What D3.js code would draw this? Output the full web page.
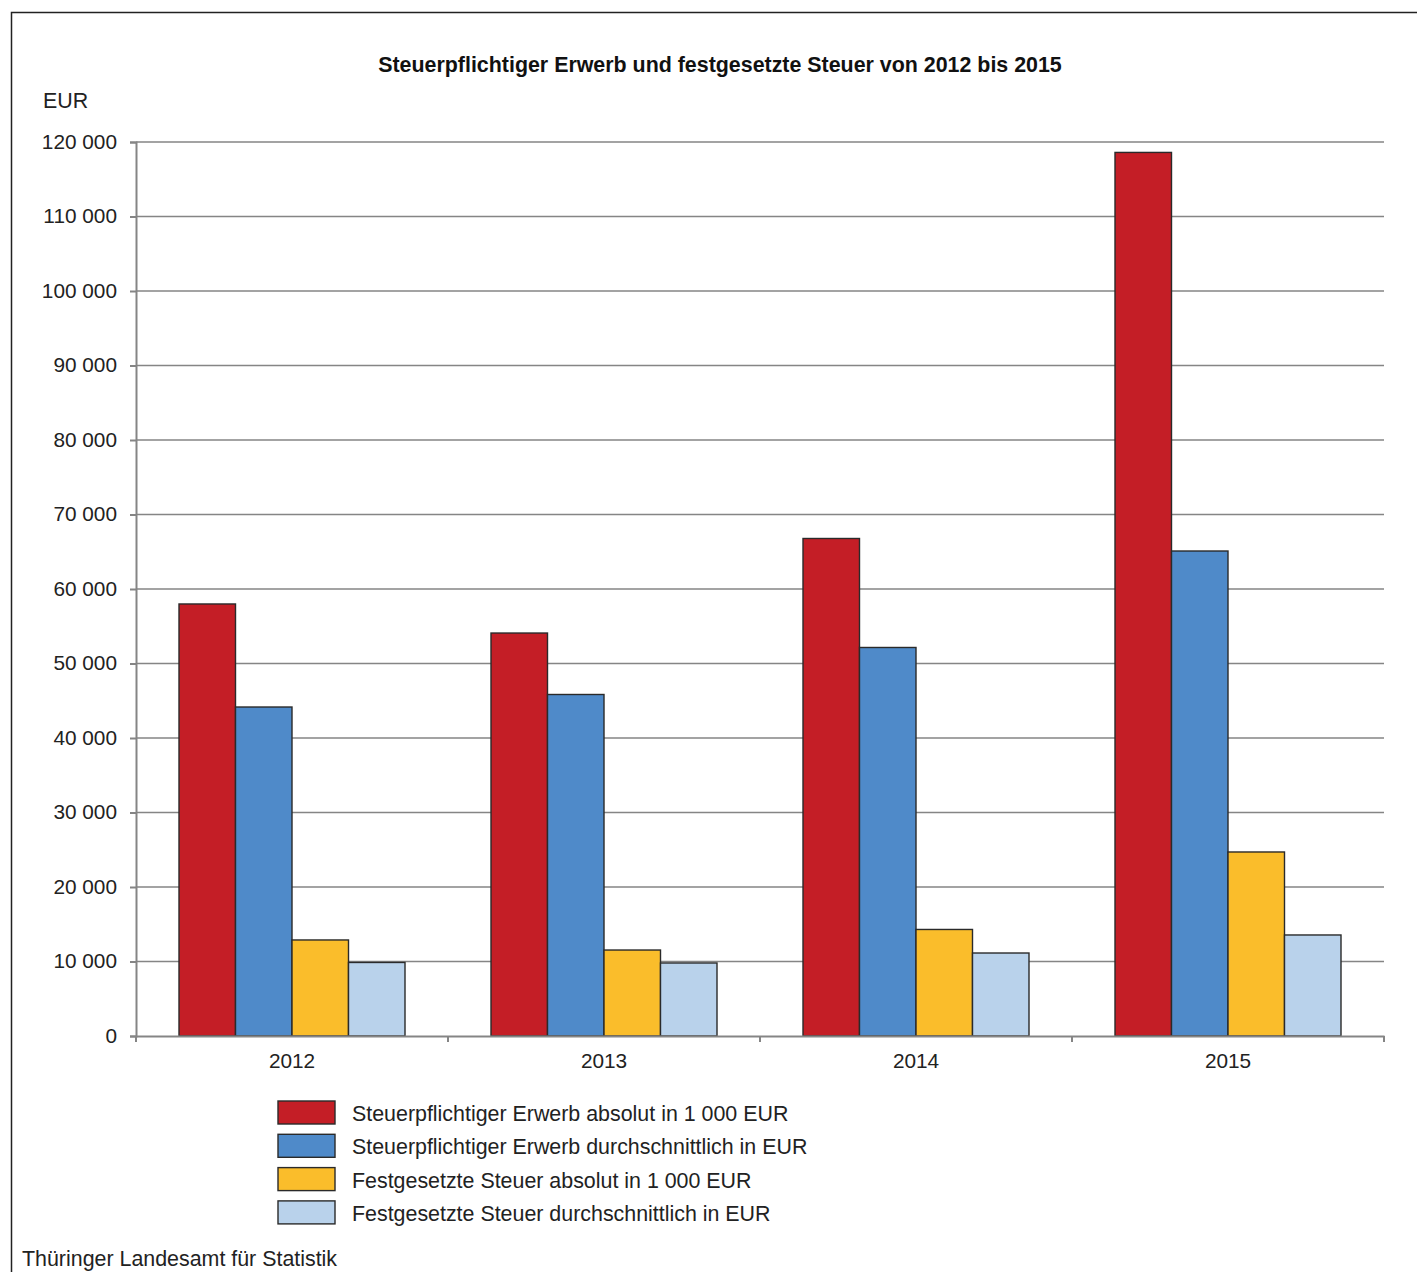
<!DOCTYPE html>
<html>
<head>
<meta charset="utf-8">
<script src="https://cdn.jsdelivr.net/npm/d3@7"></script>
<style>
  body { margin: 0; background: #fff; }
  svg { font-family: "Liberation Sans", Arial, sans-serif; }
</style>
</head>
<body>
<div id="chart"></div>
<script>
const years = ["2012", "2013", "2014", "2015"];
const seriesNames = [
  "Steuerpflichtiger Erwerb absolut in 1 000 EUR",
  "Steuerpflichtiger Erwerb durchschnittlich in EUR",
  "Festgesetzte Steuer absolut in 1 000 EUR",
  "Festgesetzte Steuer durchschnittlich in EUR"
];
const erwerbAbsolut = [57990, 54090, 66780, 118600];
const erwerbDurchschnitt = [44160, 45840, 52150, 65100];
const steuerAbsolut = [12890, 11540, 14300, 24700];
const steuerDurchschnitt = [9870, 9800, 11140, 13560];
const yTicks = [0, 10000, 20000, 30000, 40000, 50000, 60000, 70000, 80000, 90000, 100000, 110000, 120000];
const colors = ["#c41e26", "#4f8ac9", "#fabd2b", "#b9d2eb"];

const allSeries = [erwerbAbsolut, erwerbDurchschnitt, steuerAbsolut, steuerDurchschnitt];

const W = 1417, H = 1272;
const plot = { left: 136, right: 1384, top: 142, bottom: 1036 };
const fs = "21.4px";

const svg = d3.select("#chart").append("svg")
  .attr("width", W).attr("height", H);

// Rahmen
svg.append("rect")
  .attr("x", 11.5).attr("y", 12.5)
  .attr("width", W + 20).attr("height", H + 20)
  .attr("fill", "none").attr("stroke", "#222").attr("stroke-width", 1.5);

// Titel
svg.append("text")
  .attr("x", 720).attr("y", 72)
  .attr("text-anchor", "middle")
  .style("font-size", fs).style("font-weight", "bold").attr("fill", "#111")
  .text("Steuerpflichtiger Erwerb und festgesetzte Steuer von 2012 bis 2015");

svg.append("text")
  .attr("x", 43).attr("y", 108)
  .style("font-size", fs).attr("fill", "#222")
  .text("EUR");

// Skalen
const x = d3.scaleBand().domain(years).range([plot.left, plot.right]).paddingInner(0).paddingOuter(0);
const groupPad = 43;
const xs = d3.scaleBand().domain(d3.range(4))
  .range([groupPad, x.bandwidth() - groupPad]).padding(0);
const y = d3.scaleLinear().domain([0, 120000]).range([plot.bottom, plot.top]);

const fmt = v => d3.format(",")(v).replace(/,/g, " ");

// Gitterlinien
svg.append("g")
  .selectAll("line")
  .data(yTicks.filter(t => t > 0))
  .join("line")
  .attr("x1", plot.left).attr("x2", plot.right)
  .attr("y1", d => y(d)).attr("y2", d => y(d))
  .attr("stroke", "#858585").attr("stroke-width", 1.6);

// Y-Achse
const yAxis = svg.append("g")
  .attr("transform", `translate(${plot.left},0)`)
  .call(d3.axisLeft(y).tickValues(yTicks).tickFormat(fmt).tickSize(6).tickPadding(13));
yAxis.select(".domain").attr("stroke", "#858585").attr("stroke-width", 2);
yAxis.selectAll(".tick line").attr("stroke", "#858585").attr("stroke-width", 2);
yAxis.selectAll(".tick text").style("font-size", "20.8px").attr("fill", "#222")
  .attr("dy", "0.3em");

// Balken
const groups = svg.append("g")
  .selectAll("g")
  .data(years)
  .join("g")
  .attr("transform", d => `translate(${x(d)},0)`);

groups.selectAll("rect")
  .data((d, i) => allSeries.map((s, j) => ({ j, v: s[i] })))
  .join("rect")
  .attr("x", d => xs(d.j))
  .attr("width", xs.bandwidth())
  .attr("y", d => y(d.v))
  .attr("height", d => y(0) - y(d.v))
  .attr("fill", d => colors[d.j])
  .attr("stroke", "#2a2a2a").attr("stroke-width", 1.4);

// X-Achse
const xAxis = svg.append("g")
  .attr("transform", `translate(0,${plot.bottom})`)
  .call(d3.axisBottom(x).tickSize(0).tickPadding(17));
xAxis.select(".domain").attr("stroke", "#858585").attr("stroke-width", 2);
xAxis.selectAll(".tick text").style("font-size", "20.8px").attr("fill", "#222");

// Kategoriegrenzen-Ticks
svg.append("g")
  .selectAll("line")
  .data(years.map(d => x(d)).concat([plot.right]))
  .join("line")
  .attr("x1", d => d).attr("x2", d => d)
  .attr("y1", plot.bottom).attr("y2", plot.bottom + 6)
  .attr("stroke", "#858585").attr("stroke-width", 2);

// Legende
const legend = svg.append("g").attr("transform", "translate(278,1101)");
const rows = legend.selectAll("g")
  .data(seriesNames)
  .join("g")
  .attr("transform", (d, i) => `translate(0,${i * 33.3})`);
rows.append("rect")
  .attr("width", 57).attr("height", 23)
  .attr("fill", (d, i) => colors[i])
  .attr("stroke", "#2a2a2a").attr("stroke-width", 1.4);
rows.append("text")
  .attr("x", 74).attr("y", 20)
  .style("font-size", fs).attr("fill", "#222")
  .text(d => d);

// Quelle
svg.append("text")
  .attr("x", 22).attr("y", 1266)
  .style("font-size", fs).attr("fill", "#222")
  .text("Thüringer Landesamt für Statistik");
</script>
</body>
</html>
